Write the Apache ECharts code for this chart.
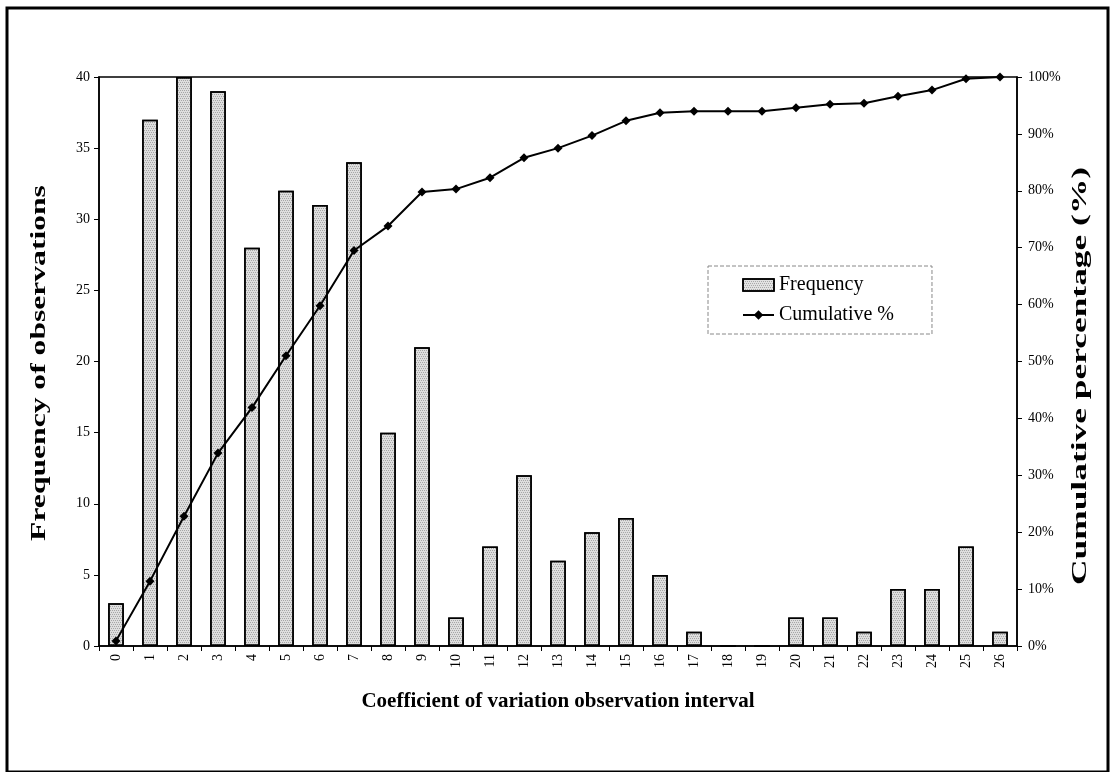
<!DOCTYPE html>
<html>
<head>
<meta charset="utf-8">
<script src="https://cdn.jsdelivr.net/npm/echarts@6/dist/echarts.min.js"></script>
<style>
html,body{margin:0;padding:0;background:#fff;}
#c{width:1111px;height:772px;}
</style>
</head>
<body>
<div id="c"></div>
<script>
var categories = ['0','1','2','3','4','5','6','7','8','9','10','11','12','13','14','15','16','17','18','19','20','21','22','23','24','25','26'];
var frequency = [3,37,40,39,28,32,31,34,15,21,2,7,12,6,8,9,5,1,0,0,2,2,1,4,4,7,1];
var cumulativePct = [0.9,11.4,22.8,33.9,41.9,51.0,59.8,69.5,73.8,79.8,80.3,82.3,85.8,87.5,89.7,92.3,93.7,94.0,94.0,94.0,94.6,95.2,95.4,96.6,97.7,99.7,100];
var leftTicks = {min:0, max:40, interval:5};
var rightTicks = {min:0, max:100, interval:10};
var xTitle = 'Coefficient of variation observation interval';
var leftTitle = 'Frequency of observations';
var rightTitle = 'Cumulative percentage (%)';

var serif = '"Liberation Serif","DejaVu Serif",serif';
var chart = echarts.init(document.getElementById('c'));
chart.setOption({
  backgroundColor:'#fff',
  animation:false,
  textStyle:{fontFamily:serif, color:'#000'},
  graphic:[{
    type:'rect', shape:{x:7, y:8, width:1101, height:764},
    style:{fill:'none', stroke:'#000', lineWidth:3}, z:-1
  },{
    type:'text', x:40, y:363, rotation:Math.PI/2, scaleX:1.58, scaleY:1,
    style:{text:leftTitle, font:'bold 20px "Liberation Serif"', fill:'#000', align:'center', verticalAlign:'middle'}
  },{
    type:'text', x:1081, y:376, rotation:Math.PI/2, scaleX:1.77, scaleY:1,
    style:{text:rightTitle, font:'bold 20px "Liberation Serif"', fill:'#000', align:'center', verticalAlign:'middle'}
  }],
  grid:{left:99, right:94, top:77, bottom:126, show:true, borderColor:'#000', borderWidth:1.5, backgroundColor:'transparent'},
  legend:{
    left:708, top:266,
    orient:'vertical', itemGap:10,
    padding:[9,38,9,34],
    borderColor:'#888', borderWidth:1, borderType:'dashed',
    itemWidth:31, itemHeight:12,
    textStyle:{fontFamily:serif, fontSize:20, color:'#000'},
    data:[
      {name:'Frequency', icon:'rect', itemStyle:{color:'#e2e2e2', borderColor:'#000', borderWidth:1.5}},
      {name:'Cumulative %'}
    ]
  },
  xAxis:{
    type:'category', data:categories,
    name:xTitle,
    nameLocation:'middle', nameGap:45,
    nameTextStyle:{fontFamily:serif, fontSize:21, fontWeight:'bold', color:'#000'},
    axisLine:{lineStyle:{color:'#000', width:1.5}},
    axisTick:{show:true, length:5, lineStyle:{color:'#000'}},
    axisLabel:{rotate:90, fontSize:14, fontFamily:serif, color:'#000', margin:8, interval:0}
  },
  yAxis:[{
    type:'value', min:leftTicks.min, max:leftTicks.max, interval:leftTicks.interval,
    axisLine:{show:true, lineStyle:{color:'#000', width:1.5}},
    axisTick:{show:true, length:5, lineStyle:{color:'#000'}},
    axisLabel:{fontSize:14, fontFamily:serif, color:'#000', margin:9},
    splitLine:{show:false}
  },{
    type:'value', min:rightTicks.min, max:rightTicks.max, interval:rightTicks.interval,
    position:'right',
    axisLine:{show:true, lineStyle:{color:'#000', width:1.5}},
    axisTick:{show:true, length:5, lineStyle:{color:'#000'}},
    axisLabel:{fontSize:14, fontFamily:serif, color:'#000', margin:11, formatter:'{value}%'},
    splitLine:{show:false}
  }],
  series:[{
    name:'Frequency', type:'bar', data:frequency, barWidth:'46%',
    itemStyle:{color:'#dedede', borderColor:'#000', borderWidth:1.5,
      decal:{symbol:'rect', symbolSize:1, dashArrayX:[[1,1],[0,1,1,0]], dashArrayY:[1,1], color:'rgba(0,0,0,0.25)'}}
  },{
    name:'Cumulative %', type:'line', yAxisIndex:1, data:cumulativePct,
    symbol:'diamond', symbolSize:9, showAllSymbol:true,
    lineStyle:{color:'#000', width:2}, itemStyle:{color:'#000'}
  }]
});
</script>
</body>
</html>
